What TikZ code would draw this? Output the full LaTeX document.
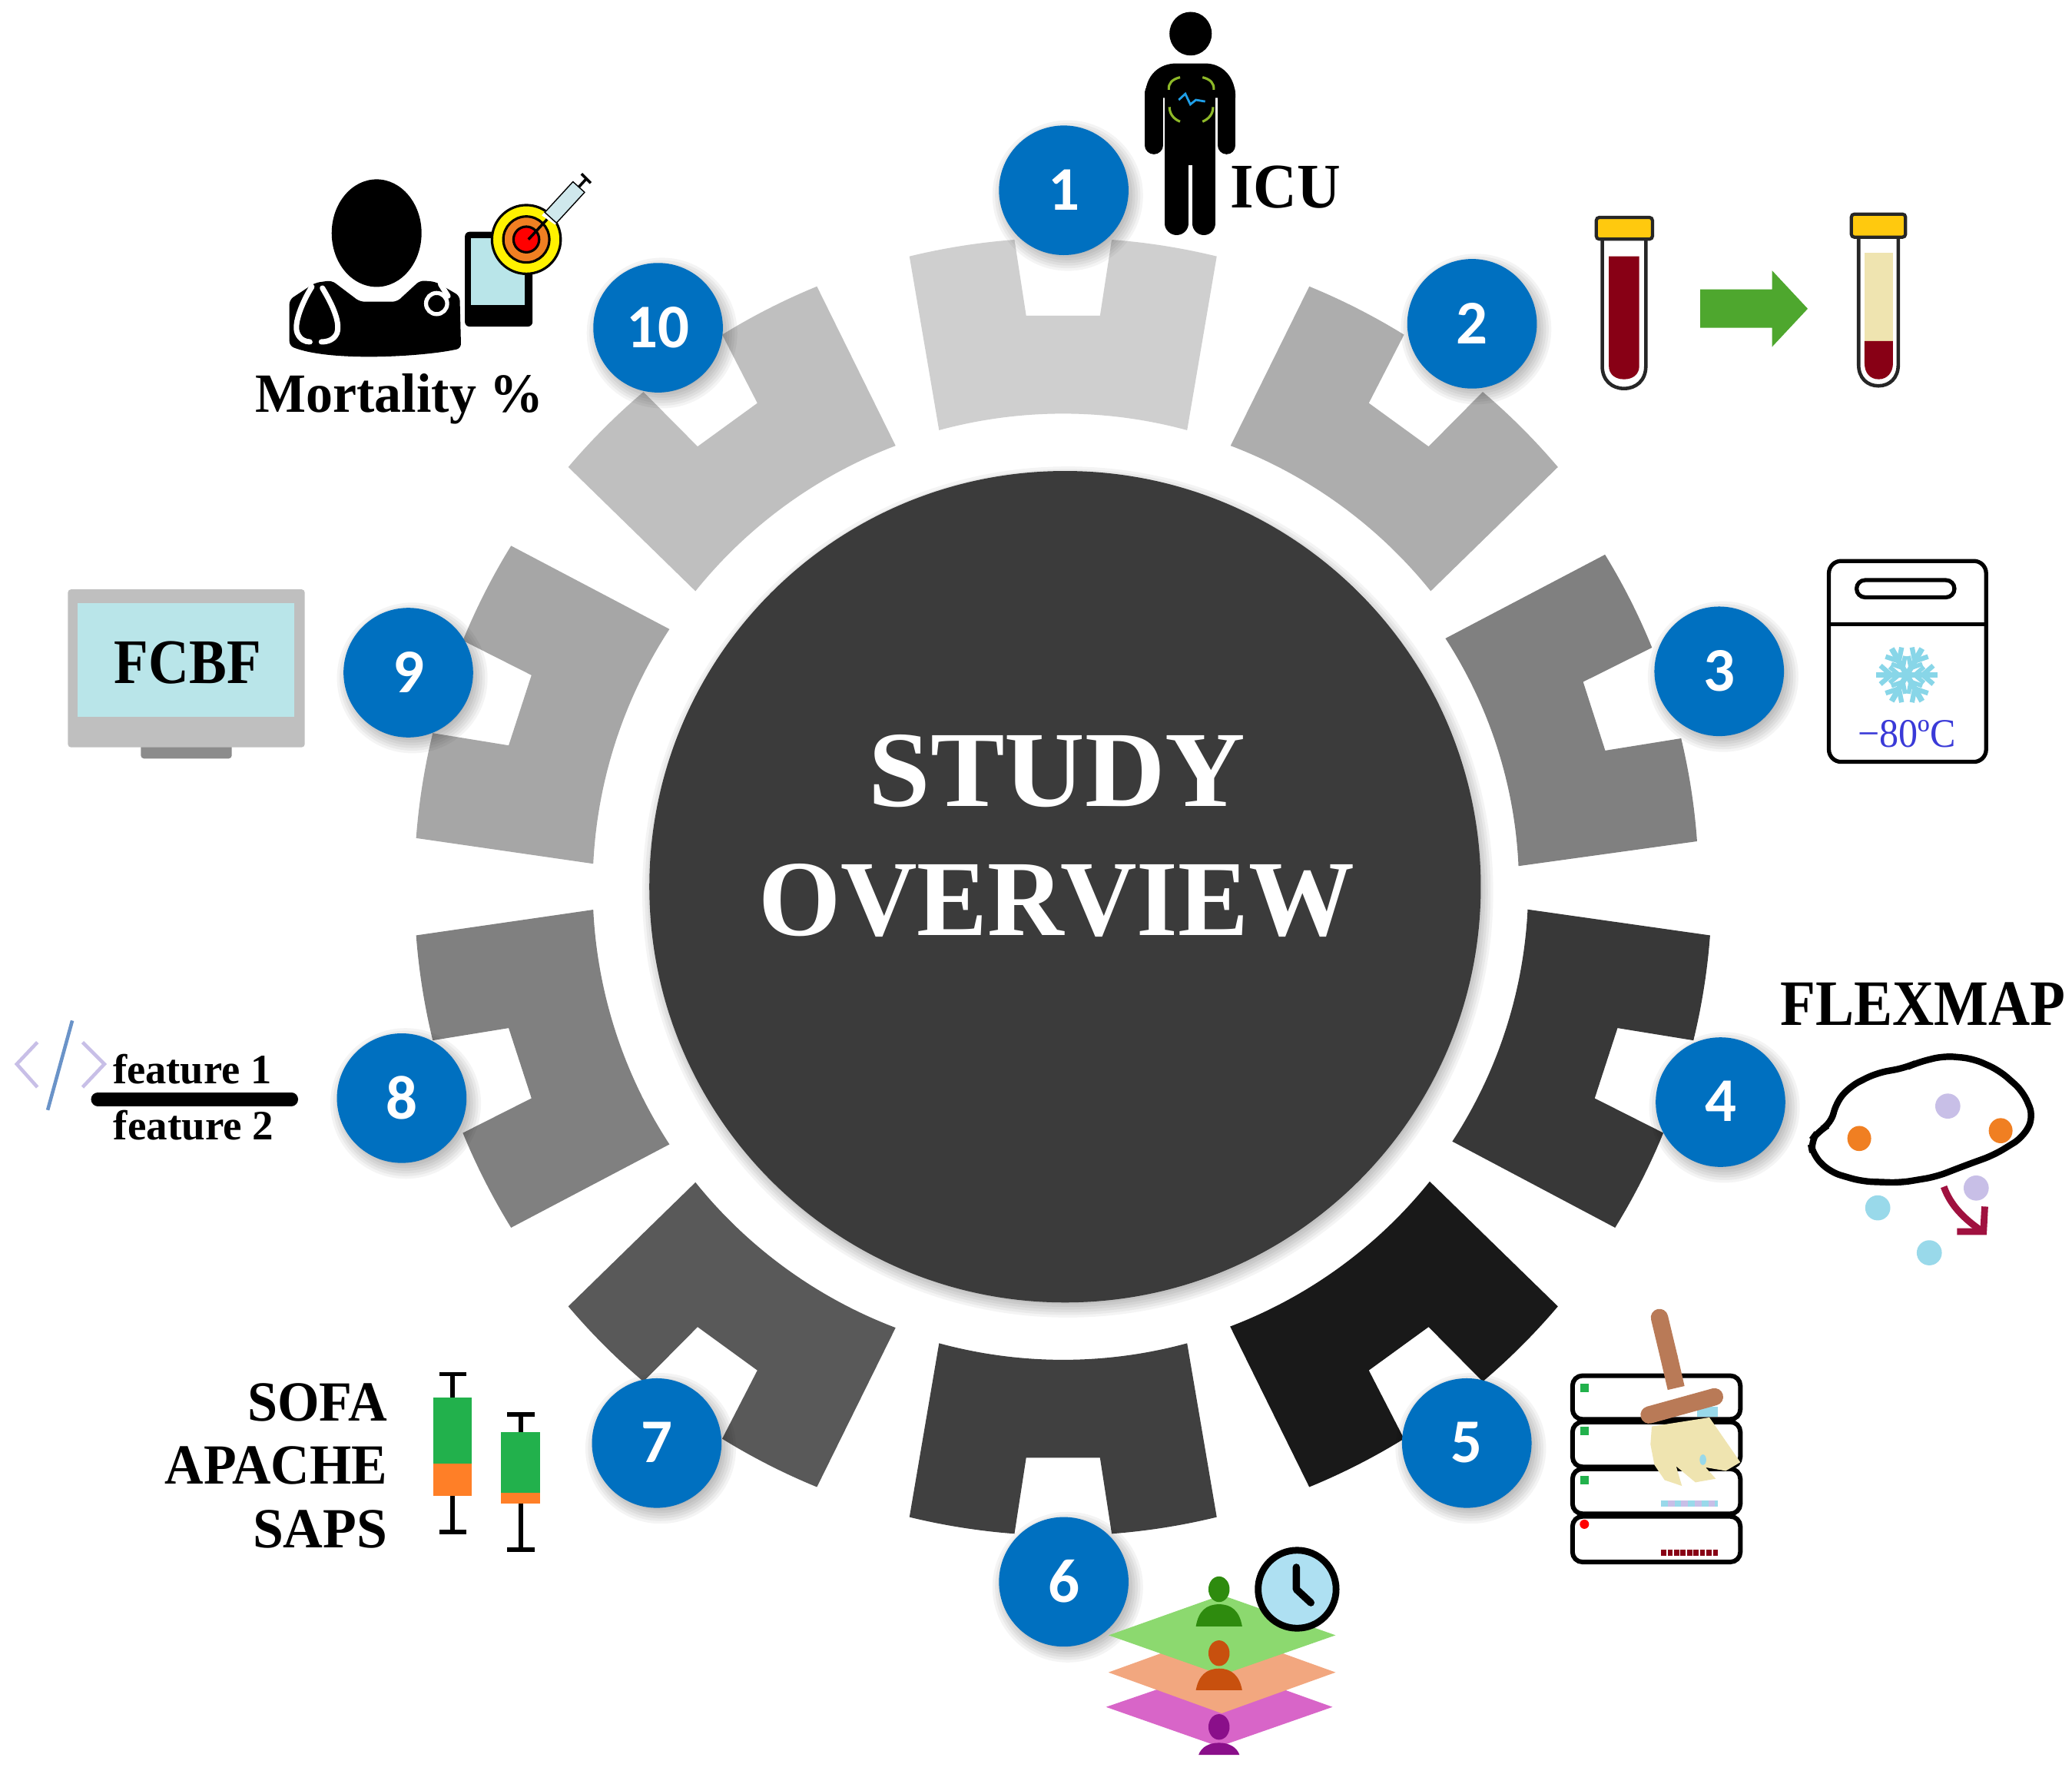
\documentclass[tikz,border=0pt]{standalone}
\usepackage{fontspec}
\usepackage{graphicx}
\setmainfont{Liberation Serif}
\newfontfamily\numfont{Carlito}
\usetikzlibrary{shapes.geometric}
\definecolor{badgeblue}{HTML}{0070C0}
\definecolor{coredark}{HTML}{3B3B3B}
\definecolor{blood}{HTML}{880015}
\definecolor{plasma}{HTML}{EFE4B0}
\definecolor{capyellow}{HTML}{FFC90E}
\definecolor{arrowgreen}{HTML}{4EA72E}
\definecolor{flake}{HTML}{88D6E8}
\definecolor{lav}{HTML}{C8BFE7}
\definecolor{skyc}{HTML}{99D9EA}
\definecolor{orng}{HTML}{F07F22}
\definecolor{crimson}{HTML}{A0113F}
\definecolor{wood}{HTML}{B97A57}
\definecolor{screenblue}{HTML}{B9E5E9}
\definecolor{boxgreen}{HTML}{22B14C}
\definecolor{boxorange}{HTML}{FF7F27}
\definecolor{bracket}{HTML}{8DB828}
\definecolor{pulse}{HTML}{1F9FE8}
\definecolor{frztext}{HTML}{3A3AD8}
\definecolor{laygreen}{HTML}{8CD96F}
\definecolor{layorange}{HTML}{F2A77F}
\definecolor{laypurple}{HTML}{D865C8}
\definecolor{mangreen}{HTML}{2E8B0E}
\definecolor{manorange}{HTML}{C8500E}
\definecolor{manpurple}{HTML}{8A0F8A}
\definecolor{clockface}{HTML}{AEE0F2}
\definecolor{slashblue}{HTML}{6A93C8}
\definecolor{syringe}{HTML}{CFE8EC}
\newcommand{\ringseg}[4]{%
  \fill[#2] (#1+13.7:#3) arc[start angle=#1+13.7,end angle=#1+4.3,radius=#3]
    -- (#1+3.7:#3-58) -- (#1-3.7:#3-58) -- (#1-4.3:#3)
    arc[start angle=#1-4.3,end angle=#1-13.7,radius=#3]
    -- (#1-15.2:#4) arc[start angle=#1-15.2,end angle=#1+15.2,radius=#4] -- cycle;}
\newcommand{\softshadow}[5]{%
  \foreach \k in {-4,-2,...,8}{\fill[black,opacity=.045] (#1+#4,#2+#5) circle[radius=#3+\k];}}
\newcommand{\badge}[4]{%
  \softshadow{#2}{#3}{49}{3}{4}%
  \node[badgenode] (#1) at (#2,#3) {\raisebox{.5pt}{#4}};}
\newcommand{\fsz}[1]{\fontsize{#1}{#1}\selectfont}
\newcommand{\xs}[2]{\scalebox{#1}[1]{#2}}
\tikzset{
  badgenode/.style={circle,fill=badgeblue,minimum size=1.686cm,inner sep=0pt,text=white,font=\numfont\bfseries\fsz{23}},
  bold label/.style={inner sep=0pt,text=black,font=\bfseries\fsz{#1}},
  rack/.style={draw=black,line width=1.7pt,rounded corners=.13cm,fill=white},
  whisker/.style={draw=black,line width=1.7pt},
  stetho/.style={draw=white,line width=2pt,line cap=round},
}
\begin{document}
\begin{tikzpicture}[x=.0172cm,y=-.0172cm]
\useasboundingbox (0,0) rectangle (1568,1341.85);
\fill[white] (0,0) rectangle (1568,1341.85);

% ring segments
\begin{scope}[shift={(804.5,671)},y=.0172cm]
  \ringseg{90}{black!19}{491}{358}
  \ringseg{54}{black!32}{491}{357}
  \ringseg{17.8}{black!50}{481}{345}
  \ringseg{-18}{black!78}{491}{352}
  \ringseg{-54}{black!90}{491}{356}
  \ringseg{-90}{black!75}{491}{358}
  \ringseg{-126}{black!65}{491}{357}
  \ringseg{-162}{black!50}{491}{356}
  \ringseg{162}{black!35}{491}{356}
  \ringseg{126}{black!25}{491}{357}
\end{scope}

% centre
\softshadow{806}{671}{314}{2}{4}
\node[circle,fill=coredark,minimum size=10.82cm,inner sep=0pt] (core) at (806,671) {};
\node[bold label=40,text=white,anchor=base] (study) at (800,610) {\xs{1.03}{STUDY}};
\node[bold label=40,text=white,anchor=base] (overview) at (799.5,708) {\xs{.98}{OVERVIEW}};

% badges
\badge{b1}{805}{144}{1}
\badge{b2}{1114}{245}{2}
\badge{b3}{1301}{508}{3}
\badge{b4}{1302}{834}{4}
\badge{b5}{1110}{1092}{5}
\badge{b6}{805}{1197}{6}
\badge{b7}{497}{1092}{7}
\badge{b8}{304}{831}{8}
\badge{b9}{309}{509}{9}
\badge{b10}{498}{248}{10}

% 1: ICU patient
\fill[black] (901,25.5) ellipse[x radius=16,y radius=16.5];
\fill[black] (866.5,74) .. controls (866.5,56) and (878,48) .. (890,48) -- (912,48)
   .. controls (925,48) and (935,58) .. (935,74) -- cycle;
\fill[black] (881.6,50) rectangle (920,125);
\draw[black,line width=6.6pt,line cap=round] (873.2,70) -- (873.2,110);
\draw[black,line width=6.6pt,line cap=round] (928.3,70) -- (928.3,110);
\draw[black,line width=8.7pt,line cap=round] (890.5,120) -- (890.5,169);
\draw[black,line width=8.7pt,line cap=round] (911,120) -- (911,169);
\draw[white,line width=.5pt] (880.9,78) -- (880.9,119);
\draw[white,line width=.5pt] (920.8,78) -- (920.8,119);
\begin{scope}[draw=bracket,line width=.9pt]
  \draw (893,58.5) .. controls (887,60) and (884,63) .. (884.5,68);
  \draw (910,58.5) .. controls (916,60) and (919,63) .. (918.5,68);
  \draw (885,81) .. controls (885,86) and (888,90) .. (893,92);
  \draw (918,81) .. controls (918,86) and (915,90) .. (910,92);
\end{scope}
\draw[pulse,line width=.8pt] (892,75.6) -- (897,71) -- (900.8,79) -- (905,75.6) -- (912,76.8);
\node[bold label=23.5,anchor=base west] (icu) at (930.5,157) {\xs{.95}{ICU}};

% 2: blood tubes
\draw[black!85,line width=1.3pt,fill=white] (1212.5,178) -- (1212.5,277) .. controls (1212.5,288) and (1220,294) .. (1229,294) .. controls (1238,294) and (1245.5,288) .. (1245.5,277) -- (1245.5,178) -- cycle;
\fill[blood] (1217.5,194) -- (1217.5,277) .. controls (1217.5,283) and (1222,287) .. (1229,287) .. controls (1236,287) and (1240.5,283) .. (1240.5,277) -- (1240.5,194) -- cycle;
\draw[black!85,line width=1.2pt,fill=capyellow,rounded corners=.04cm] (1208,164.5) rectangle (1250.5,181);
\draw[black!85,line width=1.3pt,fill=white] (1406.5,176) -- (1406.5,276) .. controls (1406.5,286) and (1413,292) .. (1421.5,292) .. controls (1430,292) and (1436.5,286) .. (1436.5,276) -- (1436.5,176) -- cycle;
\fill[plasma] (1411,191) rectangle (1432.5,258);
\fill[blood] (1411,258) -- (1411,275) .. controls (1411,282) and (1415,287) .. (1421.7,287) .. controls (1428,287) and (1432.5,282) .. (1432.5,275) -- (1432.5,258) -- cycle;
\draw[black!85,line width=1.2pt,fill=capyellow,rounded corners=.04cm] (1401,162) rectangle (1442,179.5);
\fill[arrowgreen] (1286.6,219) -- (1341,219) -- (1341,204.7) -- (1368,233.6) -- (1341,262.5) -- (1341,248) -- (1286.6,248) -- cycle;

% 3: freezer
\draw[black,line width=1.5pt,rounded corners=.16cm] (1384,424.5) rectangle (1503,576.5);
\draw[black,line width=1.5pt] (1384,472.3) -- (1503,472.3);
\draw[black,line width=1.5pt,rounded corners=.11cm] (1405,439) rectangle (1479,452);
\begin{scope}[shift={(1443,510.7)}]
  \foreach \a in {0,60,...,300}{
    \begin{scope}[rotate=\a]
      \draw[flake,line width=2.1pt] (0,0) -- (23,0);
      \draw[flake,line width=1.8pt] (20,-7) -- (12,0) -- (20,7);
      \draw[flake,line width=1.6pt] (13,-6) -- (6,0) -- (13,6);
    \end{scope}}
\end{scope}
\node[inner sep=0pt,anchor=base,text=frztext,font=\fsz{15}] (freezer) at (1443,565.5) {\xs{.95}{−80ºC}};

% 4: FLEXMAP
\node[bold label=24,anchor=base west] (flexmap) at (1347,776) {\xs{.89}{FLEXMAP}};
\draw[black,line width=2.4pt,rounded corners=.14cm] (1451,804) -- (1471,799) -- (1493,801) -- (1513,810) -- (1531,826) -- (1539,845) -- (1531,860.5) -- (1509,874) -- (1487,882) -- (1465,890.5) -- (1438,895) -- (1409,894) -- (1385,887) -- (1372,874) -- (1370,864) -- (1376,856) -- (1386,850) -- (1389,835) -- (1400,822) -- (1420,812) -- (1442,808) -- cycle;
\fill[orng] (1407,861.5) ellipse[x radius=9,y radius=9.5];
\fill[orng] (1514,855.6) ellipse[x radius=9,y radius=9.5];
\fill[lav] (1474,837) ellipse[x radius=9.5,y radius=9.5];
\fill[lav] (1495.5,899) ellipse[x radius=9.5,y radius=9.5];
\fill[skyc] (1421,914) ellipse[x radius=9.5,y radius=9.5];
\fill[skyc] (1460,948) ellipse[x radius=9.5,y radius=9.5];
\draw[crimson,line width=2.5pt] (1471,898) .. controls (1476,912) and (1486,922) .. (1499,931);
\draw[crimson,line width=2.5pt] (1502,913) -- (1501,932) -- (1481,932);

% 5: data cleaning
\draw[rack] (1190,1041) rectangle (1317,1074);
\draw[rack] (1190,1076) rectangle (1317,1110);
\draw[rack] (1190,1111.5) rectangle (1317,1145.5);
\draw[rack] (1190,1147.5) rectangle (1317,1182);
\fill[boxgreen] (1196,1047) rectangle (1202.5,1053.5);
\fill[boxgreen] (1196,1079.5) rectangle (1202.5,1086);
\fill[boxgreen] (1196,1117) rectangle (1202.5,1123.5);
\fill[red] (1199,1153.4) circle[radius=3.5];
\draw[lav,line width=2.3pt] (1257,1137.6) -- (1300,1137.6);
\draw[skyc,line width=2.3pt,dash pattern=on 2.5pt off 2.5pt] (1257,1137.6) -- (1300,1137.6);
\draw[blood,line width=2.3pt,dash pattern=on 1.9pt off .5pt] (1257,1174.8) -- (1300,1174.8);
\fill[skyc] (1284,1064.5) rectangle (1300,1072);
\fill[plasma] (1250,1079.4) -- (1293.6,1072.6) -- (1317,1106.5) -- (1306,1113) -- (1290.7,1110.4) -- (1298.4,1119) -- (1283,1121.7) -- (1268.4,1109.5) -- (1272.8,1124.4) -- (1259.7,1120) -- (1252,1108.5) -- (1249,1093) -- cycle;
\fill[skyc] (1288.7,1104.6) ellipse[x radius=2.5,y radius=4];
\draw[wood,line width=6.4pt,line cap=round] (1248,1070.7) -- (1297.5,1057);
\draw[wood,line width=6.4pt,line cap=round] (1255.8,997) -- (1263,1027);
\draw[wood,line width=6.4pt] (1263,1027) -- (1268.4,1050.3);

% 6: time layers
\fill[laypurple] (837,1291.7) -- (924.5,1261.7) -- (1008.4,1291.7) -- (922.5,1321.7) -- cycle;
\fill[layorange] (838.8,1265.5) -- (924.5,1234.5) -- (1010.7,1265.5) -- (924.5,1296.5) -- cycle;
\fill[laygreen] (839,1237.4) -- (924.5,1207) -- (1010.7,1237.4) -- (924.5,1267.5) -- cycle;
\fill[mangreen] (922.5,1202.6) ellipse[x radius=8,y radius=9.7];
\fill[mangreen] (905,1230.7) .. controls (907,1219) and (913,1214) .. (922.5,1214) .. controls (932,1214) and (938,1219) .. (940,1230.7) -- cycle;
\fill[manorange] (922.5,1251) ellipse[x radius=8,y radius=9.7];
\fill[manorange] (905,1279) .. controls (907,1268) and (913,1262.6) .. (922.5,1262.6) .. controls (932,1262.6) and (938,1268) .. (940,1279) -- cycle;
\fill[manpurple] (922.5,1306.8) ellipse[x radius=8,y radius=9.7];
\fill[manpurple] (907,1328) .. controls (909,1322) and (915,1318.8) .. (922.5,1318.8) .. controls (930,1318.8) and (936,1322) .. (938,1328) -- cycle;
\draw[black,line width=2.5pt,fill=clockface] (981.6,1202.6) circle[radius=29.5];
\draw[black,line width=2.7pt,line cap=round,line join=round] (981,1186) -- (981,1202.6) -- (992,1212.8);

% 7: severity scores
\node[bold label=21,anchor=base east] (sofa) at (293.5,1075.2) {\xs{.95}{SOFA}};
\node[bold label=21,anchor=base east] (apache) at (293.5,1123) {\xs{.945}{APACHE}};
\node[bold label=21,anchor=base east] (saps) at (293.5,1171) {\xs{.97}{SAPS}};
\draw[whisker] (332.3,1039.8) -- (353.1,1039.8);
\draw[whisker] (342.7,1039.8) -- (342.7,1159);
\draw[whisker] (332.3,1159) -- (353.1,1159);
\fill[boxgreen] (328,1057.8) rectangle (357.2,1107.6);
\fill[boxorange] (328,1107.6) rectangle (357.2,1132.2);
\draw[whisker] (383.8,1070.2) -- (404.4,1070.2);
\draw[whisker] (394.2,1070.2) -- (394.2,1172.5);
\draw[whisker] (383.8,1172.5) -- (404.4,1172.5);
\fill[boxgreen] (379.2,1083.8) rectangle (408.8,1129.5);
\fill[boxorange] (379.2,1129.5) rectangle (408.8,1137.6);

% 8: features
\begin{scope}[line width=1.3pt]
  \draw[lav] (28.3,788.7) -- (12.7,805.2) -- (28.3,822.7);
  \draw[lav] (62.5,788.7) -- (79,805.2) -- (62.5,822.7);
  \draw[slashblue] (54.7,772.3) -- (36.1,840);
\end{scope}
\draw[black,line width=5pt,line cap=round] (74,831.8) -- (220.5,831.8);
\node[bold label=15.5,anchor=base] (feat1) at (145.5,819.8) {feature 1};
\node[bold label=15.5,anchor=base] (feat2) at (146.5,862.4) {\xs{1.01}{feature 2}};

% 9: monitor
\fill[black!45,rounded corners=.04cm] (106.6,562) rectangle (175.4,574);
\fill[black!25,rounded corners=.04cm] (51.4,446) rectangle (230.6,565.5);
\fill[screenblue] (59,456.3) rectangle (222.5,542.6);
\node[bold label=23.5,anchor=base] (fcbf) at (142,517.4) {\xs{.885}{FCBF}};

% 10: doctor and target
\fill[black] (285,176.4) ellipse[x radius=34,y radius=40.7];
\fill[black,rounded corners=.06cm] (219,226.8) -- (238.4,214) -- (251,212.2) -- (272.3,228.3) -- (300.4,228.3) -- (317.9,212.2) -- (329.5,213.2) -- (347.9,223.9) -- (348.9,263.6) .. controls (320,270) and (250,274) .. (219,261.7) -- cycle;
\draw[stetho] (236,217) .. controls (229,228) and (222,245) .. (225,252) .. controls (227,257) and (231,258.7) .. (234.5,258.7);
\draw[stetho] (244,218) .. controls (250,228) and (258,243) .. (255,252) .. controls (253,257) and (248,258.7) .. (243.2,258.7);
\draw[white,line width=1.5pt] (330.4,229.7) circle[radius=8];
\draw[stetho] (333.4,215) -- (339,224);
\fill[black,rounded corners=.06cm] (351.8,175.4) rectangle (403,247.1);
\fill[screenblue] (356.6,180.3) rectangle (397.3,230.6);
\draw[black,line width=.9pt,fill=yellow] (398.3,181.2) circle[radius=26];
\draw[black,line width=.9pt,fill=orng] (398.3,181.2) circle[radius=17.4];
\draw[black,line width=.9pt,fill=red] (398.3,181.2) circle[radius=9.7];
\fill[white] (410,163) -- (420,170) -- (425,165) -- (415,157) -- cycle;
\draw[black,line width=.4pt,fill=syringe] (412.3,160.7) -- (421.1,168.7) -- (442.4,145.5) -- (433.6,137.5) -- cycle;
\draw[black,line width=1pt] (399.9,181.2) -- (414,166);
\draw[black,line width=1pt] (438,141.5) -- (444,135);
\draw[black,line width=1pt] (440,131.5) -- (447,138.5);
\node[bold label=20.5,anchor=base west] (mort) at (193,312) {\xs{.97}{Mortality \%}};
\end{tikzpicture}
\end{document}
